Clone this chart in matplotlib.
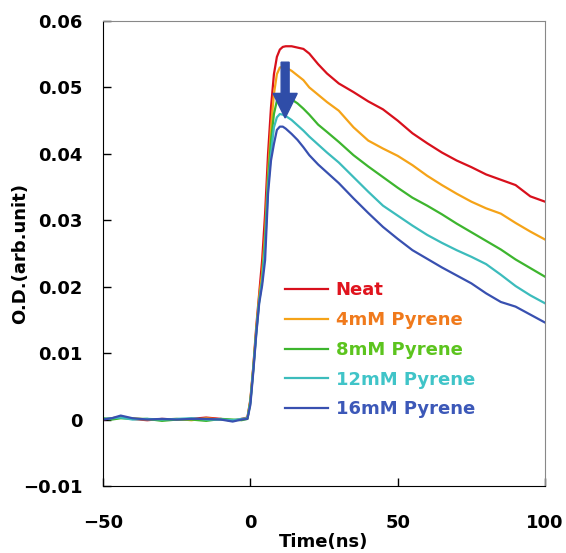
import numpy as np
import matplotlib.pyplot as plt

# --- transient absorption data ---
time_ns = [-50, -47, -44, -40, -35, -30, -25, -20, -15, -10, -6, -3, -1,
           0, 1, 2, 3, 4, 5, 6, 7, 8, 9, 10, 11, 12,
           14, 16, 18, 20, 23, 26, 30,
           35, 40, 45, 50, 55, 60, 65, 70, 75, 80, 85, 90, 95, 100]

od_neat = [0.0000, 0.0002, 0.0004, 0.0001, -0.0001, 0.0001, 0.0000, 0.0001, 0.0003, 0.0001, -0.0002, 0.0001, 0.0003,
           0.0030, 0.0080, 0.0140, 0.0190, 0.0240, 0.0310, 0.0400, 0.0470, 0.0520, 0.0546, 0.0557, 0.0561, 0.0562,
           0.0562, 0.0560, 0.0558, 0.0551, 0.0535, 0.0521, 0.0506,
           0.0493, 0.0479, 0.0467, 0.0450, 0.0431, 0.0416, 0.0402, 0.0390, 0.0380, 0.0369, 0.0361, 0.0353, 0.0336, 0.0328]

od_4mm = [0.0001, 0.0001, 0.0003, 0.0002, 0.0000, 0.0000, 0.0001, -0.0001, 0.0002, 0.0000, -0.0001, 0.0000, 0.0002,
          0.0028, 0.0078, 0.0135, 0.0185, 0.0220, 0.0280, 0.0370, 0.0440, 0.0490, 0.0520, 0.0530, 0.0531, 0.0530,
          0.0525, 0.0518, 0.0511, 0.0500, 0.0489, 0.0478, 0.0465,
          0.0440, 0.0420, 0.0408, 0.0397, 0.0383, 0.0367, 0.0353, 0.0340, 0.0328, 0.0318, 0.0310, 0.0296, 0.0283, 0.0271]

od_8mm = [0.0002, 0.0000, 0.0002, 0.0001, 0.0001, -0.0002, 0.0000, 0.0000, -0.0002, 0.0001, 0.0000, -0.0001, 0.0001,
          0.0027, 0.0077, 0.0133, 0.0180, 0.0210, 0.0270, 0.0360, 0.0420, 0.0460, 0.0480, 0.0488, 0.0489, 0.0487,
          0.0482, 0.0476, 0.0468, 0.0459, 0.0444, 0.0433, 0.0418,
          0.0398, 0.0381, 0.0365, 0.0349, 0.0334, 0.0322, 0.0309, 0.0295, 0.0282, 0.0269, 0.0256, 0.0241, 0.0228, 0.0215]

od_12mm = [0.0001, 0.0002, 0.0003, 0.0000, 0.0001, 0.0000, 0.0001, 0.0002, 0.0000, 0.0000, -0.0001, 0.0001, 0.0002,
           0.0025, 0.0075, 0.0130, 0.0178, 0.0208, 0.0260, 0.0350, 0.0400, 0.0440, 0.0455, 0.0460, 0.0459, 0.0457,
           0.0451, 0.0443, 0.0435, 0.0426, 0.0414, 0.0402, 0.0387,
           0.0365, 0.0343, 0.0322, 0.0307, 0.0292, 0.0278, 0.0266, 0.0255, 0.0245, 0.0234, 0.0218, 0.0201, 0.0187, 0.0175]

od_16mm = [0.0000, 0.0002, 0.0006, 0.0002, 0.0000, 0.0001, 0.0000, 0.0001, 0.0001, 0.0000, -0.0003, 0.0000, 0.0001,
           0.0022, 0.0072, 0.0128, 0.0175, 0.0202, 0.0240, 0.0340, 0.0390, 0.0415, 0.0436, 0.0441, 0.0441, 0.0438,
           0.0430, 0.0421, 0.0410, 0.0398, 0.0384, 0.0372, 0.0356,
           0.0333, 0.0311, 0.0290, 0.0272, 0.0255, 0.0242, 0.0229, 0.0217, 0.0205, 0.0190, 0.0177, 0.0170, 0.0158, 0.0146]

labels = ['Neat', '4mM Pyrene', '8mM Pyrene', '12mM Pyrene', '16mM Pyrene']
line_colors = ['#d8101c', '#f5a318', '#3db52e', '#3cbcbc', '#3850b0']
text_colors = ['#e0141e', '#f07a1c', '#5cc41e', '#40c4c8', '#3c58b8']

plt.rcParams['font.family'] = ['DejaVu Sans']
plt.rcParams['font.weight'] = 'bold'

fig = plt.figure(figsize=(5.66, 5.53), dpi=100)
ax = fig.add_axes([0.182, 0.1212, 0.781, 0.8408])

for y, c, lab in zip([od_neat, od_4mm, od_8mm, od_12mm, od_16mm], line_colors, labels):
    ax.plot(time_ns, y, color=c, lw=1.6, label=lab)

# arrow marking decrease with pyrene concentration
ax.arrow(11.8, 0.0538, 0, -0.0084, width=2.7, head_width=8.2, head_length=0.0037,
         length_includes_head=True, color='#2f4da8', zorder=5)

ax.set_xlim(-50, 100)
ax.set_ylim(-0.01, 0.06)
ax.set_xticks([-50, 0, 50, 100])
ax.set_yticks([-0.01, 0, 0.01, 0.02, 0.03, 0.04, 0.05, 0.06])
ax.set_yticklabels(['\u22120.01', '0', '0.01', '0.02', '0.03', '0.04', '0.05', '0.06'])
ax.set_xticklabels(['\u221250', '0', '50', '100'])
ax.tick_params(direction='in', length=6, width=1, labelsize=13, top=False, right=False)
ax.tick_params(axis='y', pad=15)
ax.tick_params(axis='x', pad=20)
for s in ['top', 'right']:
    ax.spines[s].set_color('#888888')
ax.set_xlabel('Time(ns)', fontsize=13, fontweight='bold', labelpad=1)
ax.set_ylabel('O.D.(arb.unit)', fontsize=13, fontweight='bold')
ax.yaxis.set_label_coords(-0.168, 0.5)

leg = ax.legend(loc='upper left', bbox_to_anchor=(0.412, 0.44), frameon=False,
                fontsize=13, handlelength=2.4, handletextpad=0.4, labelspacing=0.65,
                borderpad=0, borderaxespad=0)
for txt, c in zip(leg.get_texts(), text_colors):
    txt.set_color(c)

fig.savefig('out.png', dpi=100)
